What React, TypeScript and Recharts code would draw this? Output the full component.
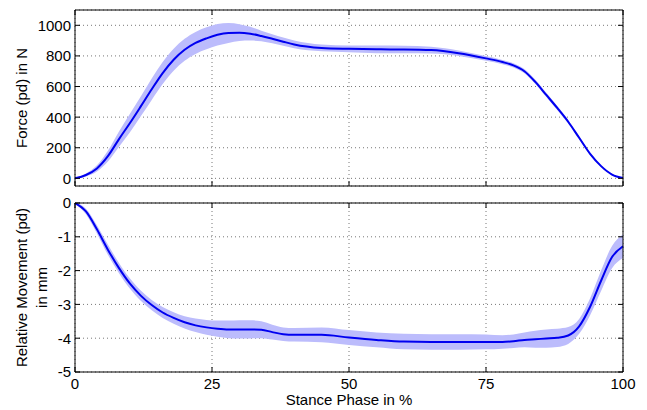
import { ComposedChart, Line, Area, XAxis, YAxis, CartesianGrid } from "recharts";

const FONT = "'Liberation Sans', Arial, Helvetica, sans-serif";

const stancePct = [0, 2, 4, 6, 8, 10, 12, 14, 16, 18, 20, 22, 24, 26, 28, 30, 32, 34, 36, 38, 40, 45, 50, 55, 60, 65, 70, 75, 78, 80, 82, 84, 86, 88, 90, 92, 94, 96, 98, 100];

const forceMean = [0, 22, 65, 145, 255, 360, 470, 582, 688, 775, 840, 885, 915, 938, 950, 952, 945, 930, 912, 893, 875, 852, 846, 843, 842, 838, 818, 784, 760, 738, 700, 630, 545, 460, 370, 265, 160, 80, 25, 3];
const forceSd = [3, 10, 20, 35, 50, 60, 65, 70, 72, 72, 72, 72, 72, 70, 65, 55, 45, 35, 30, 27, 25, 22, 22, 25, 25, 22, 18, 15, 14, 14, 14, 14, 14, 13, 12, 10, 8, 6, 4, 3];

const moveMean = [0, -0.25, -0.78, -1.38, -1.92, -2.38, -2.74, -3.02, -3.24, -3.4, -3.53, -3.62, -3.68, -3.72, -3.74, -3.74, -3.74, -3.75, -3.82, -3.88, -3.9, -3.9, -3.98, -4.05, -4.1, -4.11, -4.11, -4.11, -4.11, -4.09, -4.05, -4.03, -4.01, -3.99, -3.92, -3.65, -3.07, -2.3, -1.6, -1.28];
const moveSd = [0.02, 0.08, 0.12, 0.15, 0.15, 0.15, 0.15, 0.15, 0.16, 0.17, 0.18, 0.2, 0.22, 0.24, 0.26, 0.27, 0.27, 0.25, 0.22, 0.2, 0.2, 0.22, 0.22, 0.22, 0.23, 0.23, 0.23, 0.22, 0.2, 0.2, 0.22, 0.25, 0.27, 0.27, 0.25, 0.22, 0.25, 0.3, 0.33, 0.35];

const xTicks = [0, 25, 50, 75, 100];
const forceTicks = [0, 200, 400, 600, 800, 1000];
const moveTicks = [-5, -4, -3, -2, -1, 0];

const data = stancePct.map((p, i) => ({
    pct: p,
    force: forceMean[i],
    forceBand: [forceMean[i] - forceSd[i], forceMean[i] + forceSd[i]],
    move: moveMean[i],
    moveBand: [moveMean[i] - moveSd[i], moveMean[i] + moveSd[i]],
}));

const BAND = "#bcbcfc";
const LINE = "#0000f0";

// ticks drawn inward, matlab style
const BottomTick = ({ x, y, payload, showLabel }: any) => (
    <g>
        <line x1={x} y1={y} x2={x} y2={y - 5} stroke="#000" />
        {showLabel && (
            <text x={x} y={y + 17} textAnchor="middle" fontFamily={FONT} fontSize={15} fill="#000">
                {payload.value}
            </text>
        )}
    </g>
);

const TopTick = ({ x, y }: any) => <line x1={x} y1={y} x2={x} y2={y + 5} stroke="#000" />;

const LeftTick = ({ x, y, payload }: any) => (
    <g>
        <line x1={x} y1={y} x2={x + 5} y2={y} stroke="#000" />
        <text x={x - 4} y={y} dy="0.36em" textAnchor="end" fontFamily={FONT} fontSize={15} fill="#000">
            {payload.value}
        </text>
    </g>
);

const RightTick = ({ x, y }: any) => <line x1={x} y1={y} x2={x - 5} y2={y} stroke="#000" />;

const Panel = ({ height, margin, dataKey, bandKey, domain, ticks, yLabel, bottom }: any) => (
    <ComposedChart width={647} height={height} data={data} margin={margin} style={{ display: "block" }}>
        <CartesianGrid stroke="#777" strokeDasharray="1 3" />
        <XAxis
            dataKey="pct"
            type="number"
            domain={[0, 100]}
            ticks={xTicks}
            interval={0}
            tickSize={0}
            tickMargin={0}
            tickLine={false}
            stroke="#000"
            height={bottom ? 38 : 9}
            tick={(p: any) => <BottomTick {...p} showLabel={bottom} />}
        />
        <XAxis
            xAxisId="top"
            orientation="top"
            dataKey="pct"
            type="number"
            domain={[0, 100]}
            ticks={xTicks}
            interval={0}
            tickSize={0}
            tickMargin={0}
            tickLine={false}
            stroke="#000"
            height={1}
            tick={TopTick}
        />
        <YAxis
            type="number"
            domain={domain}
            ticks={ticks}
            interval={0}
            allowDataOverflow
            tickSize={0}
            tickMargin={0}
            tickLine={false}
            stroke="#000"
            width={75}
            tick={LeftTick}
            label={{
                content: ({ viewBox }: any) => {
                    const cy = viewBox.y + viewBox.height / 2;
                    return (
                        <g fontFamily={FONT} fontSize={15} fill="#000" textAnchor="middle">
                            {yLabel.map((t: string, i: number) => {
                                const cx = 22 + i * 20;
                                return (
                                    <text key={t} x={cx} y={cy} dy="0.36em" transform={`rotate(-90 ${cx} ${cy})`}>
                                        {t}
                                    </text>
                                );
                            })}
                        </g>
                    );
                },
            }}
        />
        <YAxis
            yAxisId="right"
            orientation="right"
            type="number"
            domain={domain}
            ticks={ticks}
            interval={0}
            allowDataOverflow
            tickSize={0}
            tickMargin={0}
            tickLine={false}
            stroke="#000"
            width={1}
            tick={RightTick}
        />
        <Area dataKey={bandKey} type="monotone" stroke="none" fill={BAND} fillOpacity={1} isAnimationActive={false} />
        <Line dataKey={dataKey} type="monotone" stroke={LINE} strokeWidth={2} dot={false} isAnimationActive={false} />
    </ComposedChart>
);

export default function App() {
    return (
        <div style={{ position: "fixed", top: 0, left: 0, width: 647, height: 410, background: "#fff", overflow: "hidden" }}>
            <Panel
                height={195}
                margin={{ top: 9, right: 23, bottom: 0, left: 0 }}
                dataKey="force"
                bandKey="forceBand"
                domain={[-50, 1100]}
                ticks={forceTicks}
                yLabel={["Force (pd) in N"]}
                bottom={false}
            />
            <Panel
                height={215}
                margin={{ top: 7, right: 23, bottom: 0, left: 0 }}
                dataKey="move"
                bandKey="moveBand"
                domain={[-5, 0]}
                ticks={moveTicks}
                yLabel={["Relative Movement (pd)", "in mm"]}
                bottom={true}
            />
            <div
                style={{
                    position: "absolute",
                    left: 75,
                    width: 548,
                    top: 392,
                    textAlign: "center",
                    fontFamily: FONT,
                    fontSize: 15,
                    lineHeight: "16px",
                    color: "#000",
                }}
            >
                Stance Phase in %
            </div>
        </div>
    );
}
